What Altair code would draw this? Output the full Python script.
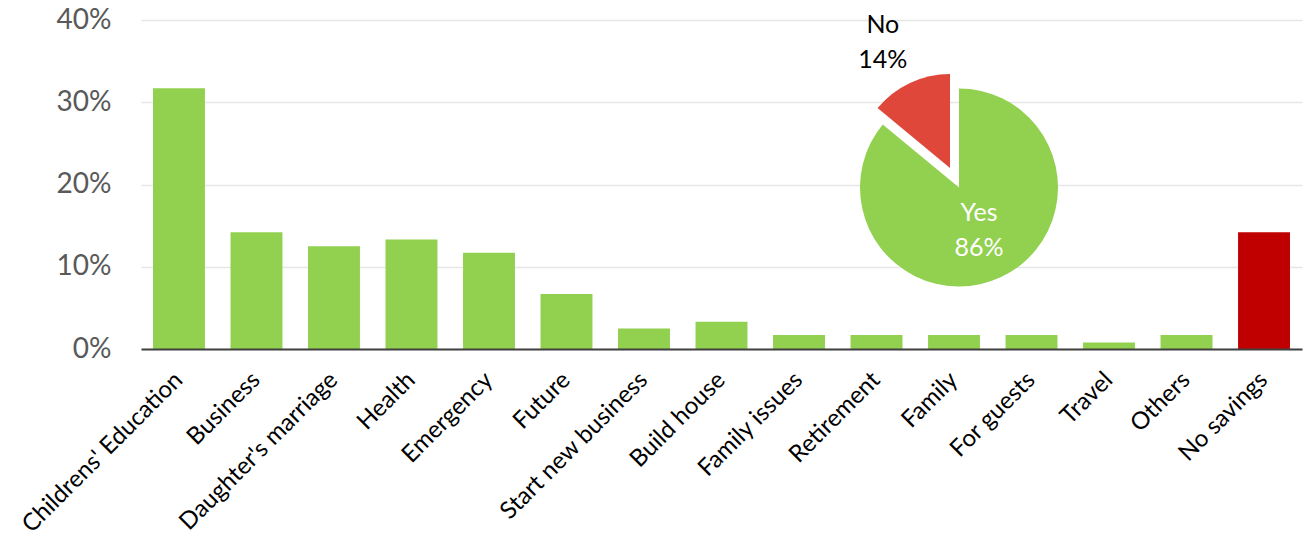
import altair as alt
import pandas as pd

# ---- data ----
categories = [
    "Childrens' Education", "Business", "Daughter's marriage", "Health",
    "Emergency", "Future", "Start new business", "Build house",
    "Family issues", "Retirement", "Family", "For guests", "Travel",
    "Others", "No savings",
]
shares = [31.7, 14.2, 12.5, 13.3, 11.7, 6.7, 2.5, 3.3, 1.7, 1.7, 1.7, 1.7, 0.8, 1.7, 14.2]
y_ticks = [0, 10, 20, 30, 40]

pie_answers = ["Yes", "No"]
pie_values = [86, 14]
pie_order = [0, 1]

GREEN = "#92D050"
DARK_RED = "#C00000"
PIE_RED = "#DE473A"
FONT = "Lato"

bar_df = pd.DataFrame({"category": categories, "share": shares})
pie_df = pd.DataFrame({
    "answer": pie_answers,
    "pct": pie_values,
    "ord": pie_order,
    "label": [f"{a}\n{v}%" for a, v in zip(pie_answers, pie_values)],
})

W, H = 1161, 329
# pie placement inside plot area
CX, CY, R = 818, 167.5, 99
EX, EY = -9, -19.5  # explode offset for the "No" slice

bars = alt.Chart(bar_df).mark_bar().encode(
    x=alt.X(
        "category:N", sort=categories,
        scale=alt.Scale(paddingInner=0.33, paddingOuter=0.155),
        axis=alt.Axis(
            title=None, labelAngle=-45, labelAlign="right", labelBaseline="middle",
            labelFontSize=24, labelColor="black", labelFont=FONT, labelLimit=500,
            ticks=False, domainColor="#404040", domainWidth=2, labelPadding=27,
            zindex=1, grid=False,
        ),
    ),
    y=alt.Y(
        "share:Q", scale=alt.Scale(domain=[0, 40]),
        axis=alt.Axis(
            title=None, values=y_ticks, labelExpr="datum.value + '%'",
            labelFontSize=28, labelColor="#595959", labelFont=FONT,
            domain=False, ticks=False, gridColor="#E6E6E6", gridWidth=1.3,
            labelPadding=30,
        ),
    ),
    color=alt.condition("datum.category == 'No savings'", alt.value(DARK_RED), alt.value(GREEN)),
)

base_pie = alt.Chart(pie_df).encode(
    theta=alt.Theta("pct:Q", stack=True),
    order=alt.Order("ord:Q"),
)

green_arc = base_pie.mark_arc(radius=R, x=CX, y=CY).encode(
    color=alt.value(GREEN),
    opacity=alt.condition("datum.answer == 'Yes'", alt.value(1), alt.value(0)),
)
red_arc = base_pie.mark_arc(radius=R - 5, x=CX + EX, y=CY + EY).encode(
    color=alt.value(PIE_RED),
    opacity=alt.condition("datum.answer == 'No'", alt.value(1), alt.value(0)),
)

yes_text = base_pie.mark_text(
    radius=47, x=CX, y=CY, dy=-17.5, lineBreak="\n", lineHeight=35, fontSize=25,
    font=FONT, color="white", align="center", baseline="middle",
).encode(
    text="label:N",
    opacity=alt.condition("datum.answer == 'Yes'", alt.value(1), alt.value(0)),
)
no_text = base_pie.mark_text(
    radius=139, x=CX + EX, y=CY + EY, dx=-8, dy=-17.5, lineBreak="\n", lineHeight=35,
    fontSize=25, font=FONT, color="black", align="center", baseline="middle",
).encode(
    text="label:N",
    opacity=alt.condition("datum.answer == 'No'", alt.value(1), alt.value(0)),
)

chart = alt.layer(bars, green_arc, red_arc, yes_text, no_text).properties(
    width=W, height=H,
    autosize="none",
    padding={"left": 141, "top": 20, "right": 14, "bottom": 190},
    background="white",
).configure_view(stroke=None)

chart.save("out.html", embed_options={"renderer": "svg", "actions": False})
